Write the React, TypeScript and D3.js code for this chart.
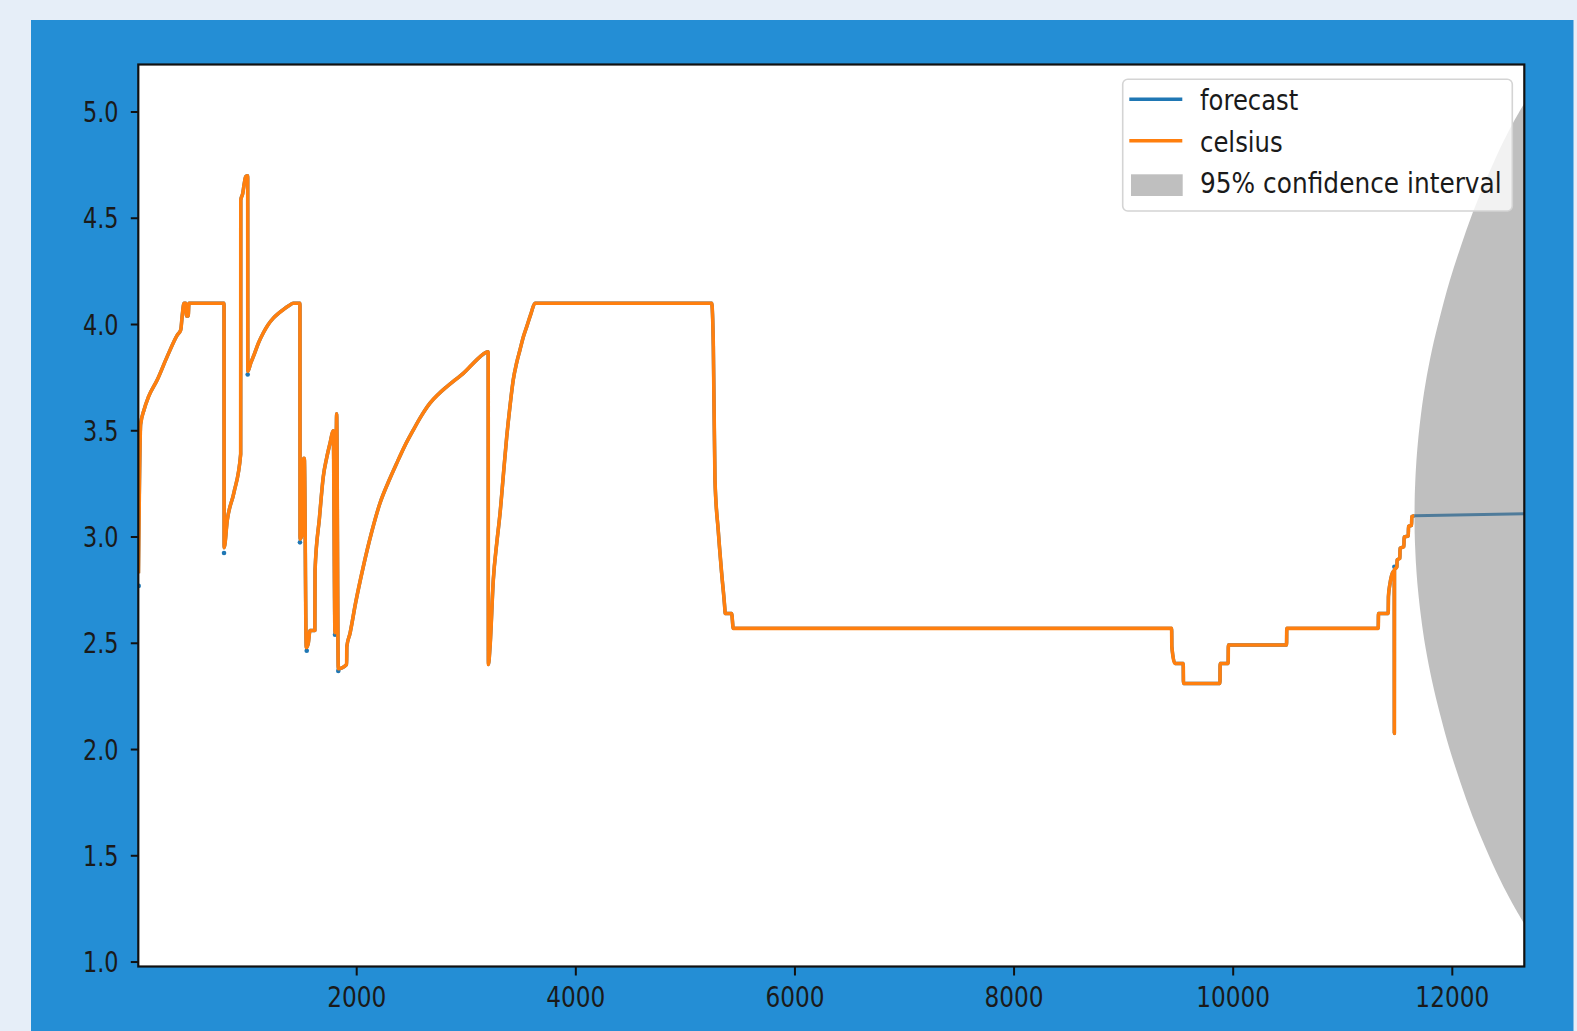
import React from "react";
import * as d3 from "d3";

// ---------- data ----------
const xTicks = [2000, 4000, 6000, 8000, 10000, 12000];
const yTicks = [1.0, 1.5, 2.0, 2.5, 3.0, 3.5, 4.0, 4.5, 5.0];
const xDomain = [6.6, 12657];
const yDomain = [0.979, 5.2235];

// observed series (x = observation index, y = degrees Celsius)
const celsius: [number, number][] = [
  [8, 2.83], [28, 3.53], [60, 3.6], [100, 3.66], [180, 3.74], [271, 3.85], [362, 3.95], [394, 3.975],
  [408, 4.045], [424, 4.1], [440, 4.1], [446, 4.04], [462, 4.04], [469, 4.1], [789, 4.1],
  [790, 2.95], [819, 3.08], [880, 3.21], [941, 3.39], [942, 4.586], [960, 4.617], [974, 4.664],
  [987, 4.696], [1005, 4.7], [1006, 3.78], [1032, 3.817], [1063, 3.857], [1105, 3.915], [1147, 3.96],
  [1190, 3.998], [1239, 4.03], [1285, 4.052], [1330, 4.07], [1380, 4.088], [1421, 4.1], [1482, 4.1],
  [1483, 2.99], [1505, 3.02], [1515, 3.37], [1522, 3.37], [1540, 2.48], [1558, 2.5], [1574, 2.56],
  [1618, 2.56], [1620, 2.845], [1660, 3.09], [1695, 3.284], [1725, 3.37], [1756, 3.44], [1786, 3.5],
  [1802, 2.55], [1817, 3.58], [1832, 2.38], [1908, 2.4], [1910, 2.484], [1939, 2.547],
  [1990, 2.69], [2060, 2.86], [2135, 3.02], [2213, 3.16], [2290, 3.26], [2365, 3.347],
  [2440, 3.43], [2517, 3.504], [2590, 3.57], [2669, 3.63], [2745, 3.672], [2821, 3.707],
  [2900, 3.74], [2973, 3.77], [3050, 3.81], [3125, 3.848], [3200, 3.872], [3202, 2.4],
  [3217, 2.484], [3247, 2.8], [3278, 2.97], [3308, 3.11], [3340, 3.3], [3369, 3.47],
  [3400, 3.62], [3429, 3.74], [3460, 3.82], [3490, 3.88], [3520, 3.94], [3552, 3.99],
  [3590, 4.05], [3627, 4.1], [5240, 4.1], [5255, 3.9], [5270, 3.27], [5300, 3.03],
  [5331, 2.83], [5361, 2.655], [5363, 2.64], [5422, 2.64], [5437, 2.57], [9438, 2.57],
  [9440, 2.484], [9469, 2.405], [9544, 2.405], [9546, 2.311], [9879, 2.311], [9881, 2.405],
  [9954, 2.405], [9956, 2.492], [10487, 2.492], [10489, 2.57], [11324, 2.57], [11326, 2.64],
  [11415, 2.64], [11417, 2.72], [11431, 2.78], [11461, 2.837], [11470, 2.84], [11471, 2.076],
  [11472, 2.845], [11494, 2.86], [11496, 2.892], [11521, 2.9], [11523, 2.947], [11558, 2.955],
  [11560, 3.0], [11598, 3.005], [11600, 3.05], [11628, 3.055], [11630, 3.096], [11655, 3.1],
];

// one-step in-sample prediction is hidden under the data, except where it overshoots
const forecastDips: [number, number][] = [
  [10, 2.77], [789, 2.925], [1005, 3.765], [1482, 2.975], [1544, 2.465],
  [1802, 2.54], [1832, 2.37], [11471, 2.86],
];

// out-of-sample forecast
const forecastX = [11655, 12657];
const forecastY = [3.1, 3.11];

// 95% confidence interval of the forecast
const ciX = [11655, 11657, 11661, 11670, 11685, 11715, 11755, 11815, 11885, 11975, 12075, 12185, 12305, 12435, 12555, 12657];
const ciUpper = [3.1, 3.19, 3.25, 3.34, 3.44, 3.581, 3.721, 3.882, 4.032, 4.203, 4.364, 4.525, 4.676, 4.828, 4.949, 5.04];
const ciLower = [3.1, 3.01, 2.95, 2.86, 2.76, 2.621, 2.481, 2.322, 2.172, 2.003, 1.844, 1.685, 1.536, 1.388, 1.269, 1.18];

const legendItems = ["forecast", "celsius", "95% confidence interval"];

// ---------- layout ----------
const W = 1577;
const H = 1031;
const plot = { left: 138.3, right: 1524.3, top: 64.5, bottom: 966.5 };
const BLUE = "#1f77b4";
const ORANGE = "#ff7f0e";
const FONT = "DejaVu Sans, sans-serif";

export default function App() {
  const x = d3.scaleLinear().domain(xDomain).range([plot.left, plot.right]);
  const y = d3.scaleLinear().domain(yDomain).range([plot.bottom, plot.top]);

  const line = d3
    .line<[number, number]>()
    .x((d) => x(d[0]))
    .y((d) => y(d[1]))
    .curve(d3.curveMonotoneX);

  const forecastPts: [number, number][] = forecastX.map((v, i) => [v, forecastY[i]]);
  const inSample = line(celsius) || "";
  const outSample = d3
    .line<[number, number]>()
    .x((d) => x(d[0]))
    .y((d) => y(d[1]))(forecastPts) || "";

  const area = d3
    .area<number>()
    .x((d) => x(d))
    .y0((_, i) => y(ciLower[i]))
    .y1((_, i) => y(ciUpper[i]))
    .curve(d3.curveCatmullRom);
  const ciPath = area(ciX) || "";

  const lg = { x: 1122.7, y: 79.3, w: 389.6, h: 131.7 };
  const rowY = [99.3, 140.7];
  const textBase = [110, 151.7, 193.3];
  const textLen = [98.3, 82.7, 301.7];

  return (
    <svg
      width={W}
      height={H}
      style={{ position: "absolute", left: 0, top: 0, display: "block" }}
      xmlns="http://www.w3.org/2000/svg"
    >
      <defs>
        <clipPath id="plotClip">
          <rect x={plot.left} y={plot.top} width={plot.right - plot.left} height={plot.bottom - plot.top} />
        </clipPath>
      </defs>
      <rect x={0} y={0} width={W} height={H} fill="#e6eef8" />
      <rect x={31} y={20} width={1542.5} height={H - 20} fill="#248ed5" />
      <rect
        x={plot.left}
        y={plot.top}
        width={plot.right - plot.left}
        height={plot.bottom - plot.top}
        fill="#ffffff"
      />

      <g clipPath="url(#plotClip)">
        {/* forecast (in-sample, below the data) */}
        <path d={inSample} fill="none" stroke={BLUE} strokeWidth={3.4} strokeLinejoin="round" />
        {forecastDips.map((d, i) => (
          <circle key={i} cx={x(d[0])} cy={y(d[1])} r={2.3} fill={BLUE} />
        ))}
        {/* celsius */}
        <path d={inSample} fill="none" stroke={ORANGE} strokeWidth={3.6} strokeLinejoin="round" />
        {/* forecast out-of-sample */}
        <path d={outSample} fill="none" stroke={BLUE} strokeWidth={3} />
        {/* confidence interval */}
        <path d={ciPath} fill="gray" fillOpacity={0.5} stroke="none" />
      </g>

      {/* spines */}
      <rect
        x={plot.left}
        y={plot.top}
        width={plot.right - plot.left}
        height={plot.bottom - plot.top}
        fill="none"
        stroke="#111"
        strokeWidth={2.2}
      />

      {/* y axis */}
      {yTicks.map((t) => (
        <g key={"y" + t}>
          <line x1={plot.left - 7.5} x2={plot.left} y1={y(t)} y2={y(t)} stroke="#111" strokeWidth={2} />
          <text
            transform={`translate(118.5, ${y(t) + 10.2}) scale(0.8, 1)`}
            textAnchor="end"
            fontFamily={FONT}
            fontSize={28}
            fill="#1a1a1a"
          >
            {t.toFixed(1)}
          </text>
        </g>
      ))}

      {/* x axis */}
      {xTicks.map((t) => (
        <g key={"x" + t}>
          <line x1={x(t)} x2={x(t)} y1={plot.bottom} y2={plot.bottom + 9} stroke="#111" strokeWidth={2} />
          <text
            transform={`translate(${x(t)}, 1007.3) scale(0.83, 1)`}
            textAnchor="middle"
            fontFamily={FONT}
            fontSize={28}
            fill="#1a1a1a"
          >
            {String(t)}
          </text>
        </g>
      ))}

      {/* legend */}
      <rect
        x={lg.x}
        y={lg.y}
        width={lg.w}
        height={lg.h}
        rx={5}
        ry={5}
        fill="#ffffff"
        fillOpacity={0.8}
        stroke="#d4d4d4"
        strokeWidth={1.6}
      />
      <line x1={1129.3} x2={1182.3} y1={rowY[0]} y2={rowY[0]} stroke={BLUE} strokeWidth={3.5} />
      <line x1={1129.3} x2={1182.3} y1={rowY[1]} y2={rowY[1]} stroke={ORANGE} strokeWidth={3.5} />
      <rect x={1131} y={174.3} width={51.7} height={21.7} fill="gray" fillOpacity={0.5} />
      {legendItems.map((s, i) => (
        <text
          key={s}
          x={1200}
          y={textBase[i]}
          textLength={textLen[i]}
          lengthAdjust="spacingAndGlyphs"
          fontFamily={FONT}
          fontSize={28}
          fill="#1a1a1a"
        >
          {s}
        </text>
      ))}
    </svg>
  );
}
